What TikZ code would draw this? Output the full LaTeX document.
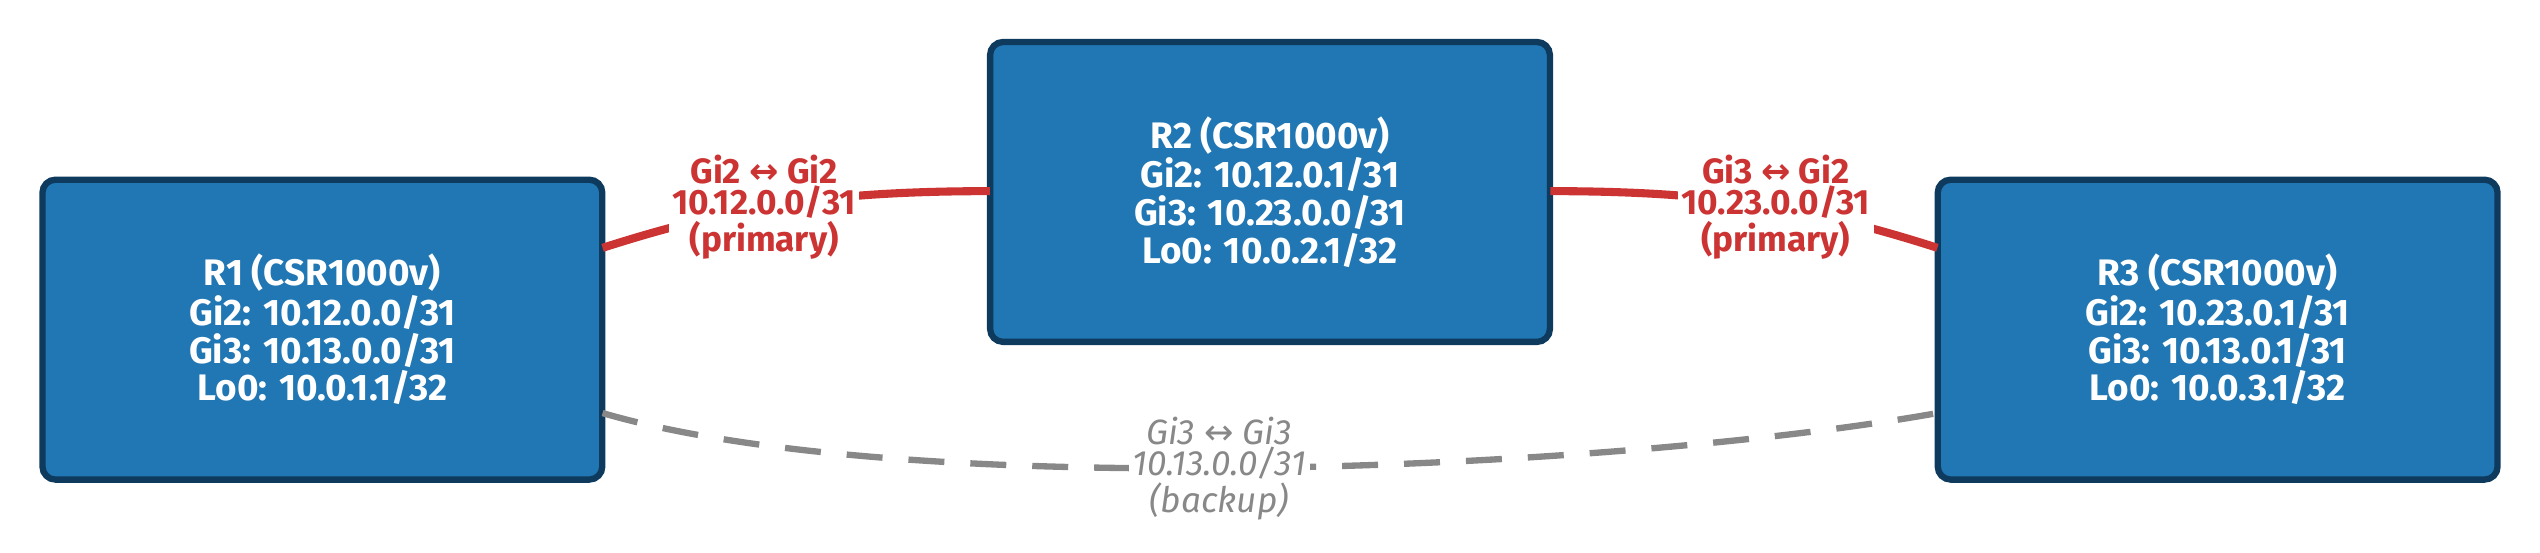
\documentclass[tikz,border=0pt]{standalone}
\usepackage{fontspec}
\setmainfont{Fira Sans}
\newfontfamily\symfont{DejaVu Sans}
\newcommand{\lr}{{\symfont ↔}}
\definecolor{boxfill}{HTML}{2077B4}
\definecolor{boxline}{HTML}{0E3A5E}
\definecolor{linkred}{HTML}{CC3333}
\definecolor{linkgray}{HTML}{888888}
\begin{document}
\begin{tikzpicture}[x=0.0162cm,y=-0.0162cm,
  router/.style={draw=boxline,line width=1.8pt,fill=boxfill,rounded corners=0.13cm,
    minimum width=5.6cm,minimum height=3.0cm,text=white,align=center,
    font=\fontsize{10.5}{9.6}\selectfont\bfseries},
  primary/.style={draw=linkred,line width=2.3pt},
  backup/.style={draw=linkgray,line width=1.8pt,dash pattern=on 0.36cm off 0.26cm},
  plabel/.style={fill=white,text=linkred,align=center,inner sep=1pt,
    font=\fontsize{10}{8.8}\selectfont\bfseries},
  blabel/.style={fill=white,text=linkgray,align=center,inner sep=1pt,
    font=\fontsize{10}{8.8}\selectfont\itshape}]
\useasboundingbox (0,0) rectangle (1568,341);
\node[router] (r1) at (199,203.5) {R1 (CSR1000v)\\Gi2: 10.12.0.0/31\\Gi3: 10.13.0.0/31\\Lo0: 10.0.1.1/32};
\node[router] (r2) at (784,118.5) {R2 (CSR1000v)\\Gi2: 10.12.0.1/31\\Gi3: 10.23.0.0/31\\Lo0: 10.0.2.1/32};
\node[router] (r3) at (1369,203.5) {R3 (CSR1000v)\\Gi2: 10.23.0.1/31\\Gi3: 10.13.0.1/31\\Lo0: 10.0.3.1/32};
\coordinate (a1) at (372,153);
\coordinate (a2) at (611,118);
\coordinate (b1) at (957,118);
\coordinate (b2) at (1196,153);
\coordinate (c1) at (372,255);
\coordinate (c2) at (1196,255);
\draw[primary] (a1) .. controls (450,128) and (510,118) .. (a2)
  node[pos=0.45,plabel] {Gi2 \lr{} Gi2\\10.12.0.0/31\\(primary)};
\draw[primary] (b1) .. controls (1058,118) and (1118,128) .. (b2)
  node[pos=0.55,plabel] {Gi3 \lr{} Gi2\\10.23.0.0/31\\(primary)};
\draw[backup] (c1) .. controls (560,310) and (1000,290) .. (c2)
  node[pos=0.47,blabel] {Gi3 \lr{} Gi3\\10.13.0.0/31\\(backup)};
\end{tikzpicture}
\end{document}
